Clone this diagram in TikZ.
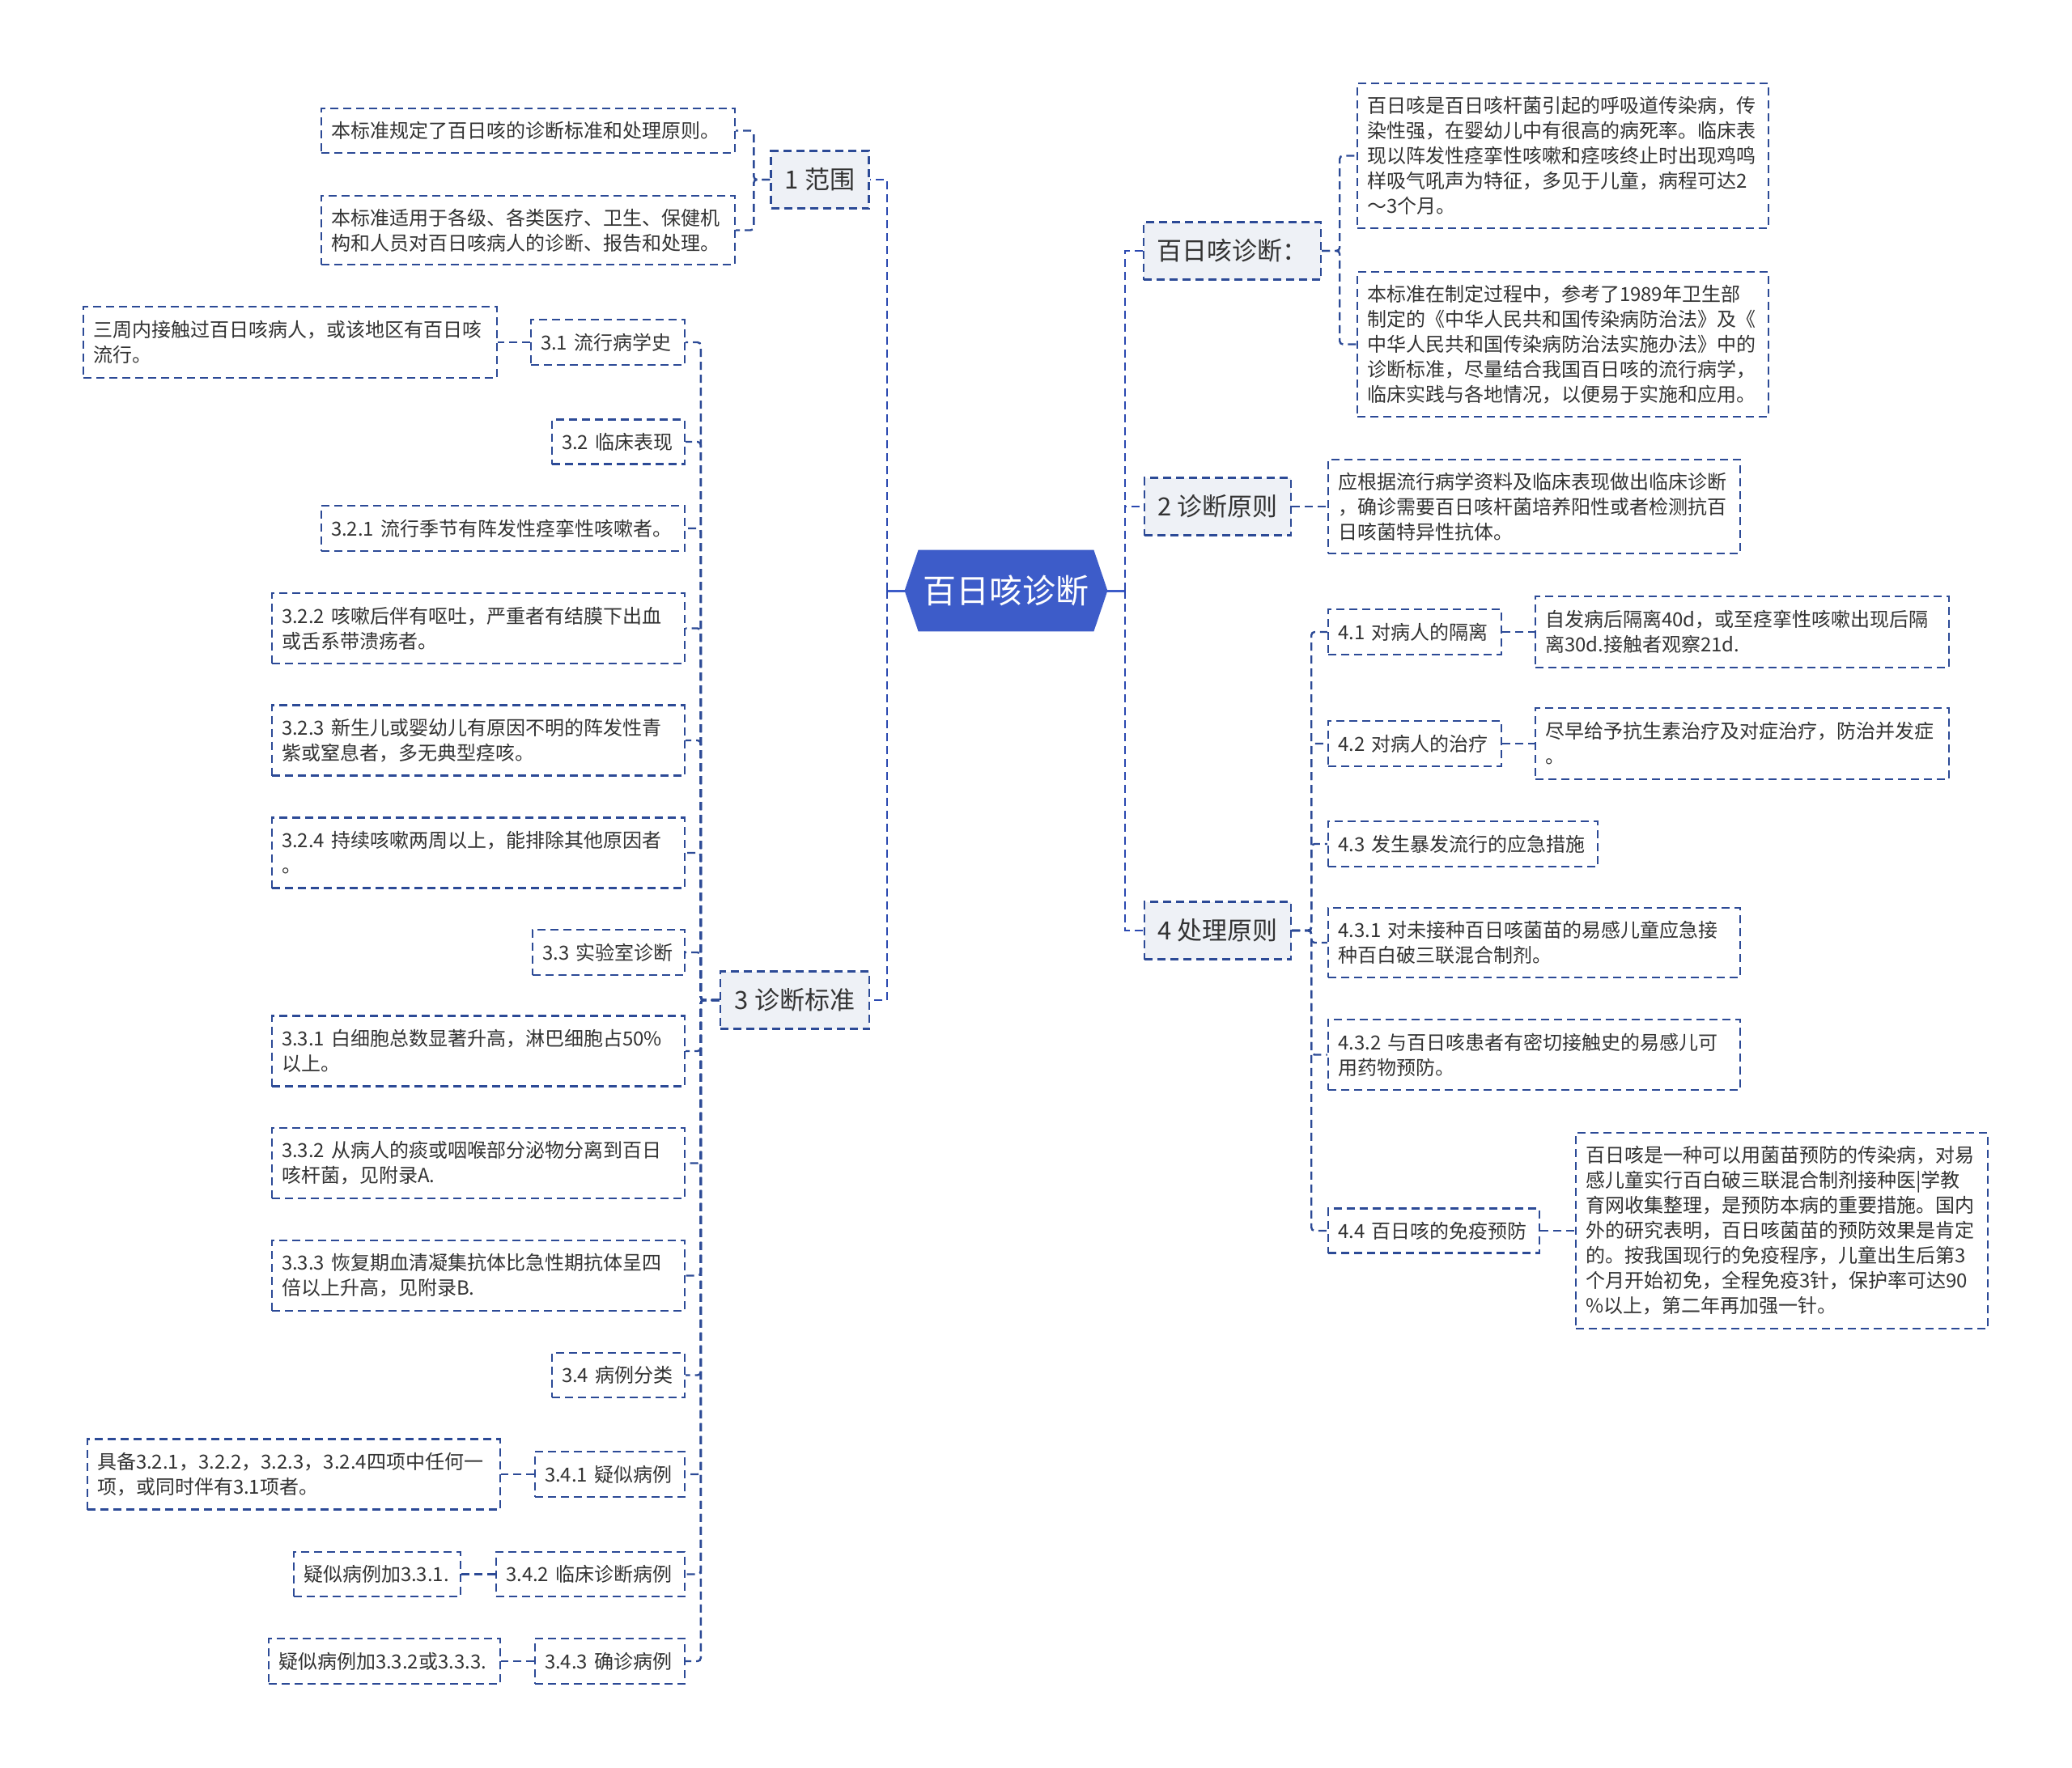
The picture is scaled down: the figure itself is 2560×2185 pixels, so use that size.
\documentclass[tikz,border=0pt]{standalone}
\usepackage{fontspec}
\setmainfont{Noto Sans CJK SC}
\usetikzlibrary{backgrounds}
\definecolor{linec}{HTML}{2C4A96}
\definecolor{spinec}{HTML}{2A48B0}
\definecolor{rootc}{HTML}{3D5CC9}
\definecolor{lvfill}{HTML}{EEF1F6}
\definecolor{txt}{HTML}{333333}
\tikzset{
  lv1/.style={draw=linec, dash pattern=on 5pt off 3pt, line width=1.2pt, fill=lvfill,
    font=\fontsize{15.5}{19}\selectfont, text=txt, minimum height=35.5pt,
    inner xsep=8pt, inner ysep=0pt, align=center},
  leaf/.style={draw=linec, dash pattern=on 5pt off 3pt, line width=1.2pt, fill=white,
    font=\fontsize{12}{15.5}\selectfont, text=txt, align=left,
    inner xsep=6pt, inner ysep=0pt},
  conn/.style={draw=linec, dash pattern=on 5pt off 3pt, line width=1.2pt, rounded corners=2pt},
  spine/.style={draw=spinec, dash pattern=on 5pt off 3pt, line width=1.3pt},
  rootln/.style={draw=rootc, line width=1.5pt},
  roottext/.style={text=white, font=\fontsize{20.5}{24}\selectfont,
    minimum width=125pt, minimum height=50pt, inner sep=0pt}
}
\begin{document}
\begin{tikzpicture}[x=0.5pt, y=-0.5pt]
\useasboundingbox (0,0) rectangle (2560,2185);
\begin{scope}[on background layer]
\fill[white] (0,0) rectangle (2560,2185);
\end{scope}

% root
\node[roottext] (root) at (1243,730) {百日咳诊断};
\begin{scope}[on background layer]
\fill[rootc] (root.west) -- ([xshift=8.5pt]root.north west) -- ([xshift=-8.5pt]root.north east)
  -- (root.east) -- ([xshift=-8.5pt]root.south east) -- ([xshift=8.5pt]root.south west) -- cycle;
\end{scope}
\coordinate (jL) at (1096,730);
\coordinate (jR) at (1390,730);

% ---------- left side ----------
\node[lv1, minimum width=60.5pt] (n1) at (1013,222) {1 范围};
\node[lv1, minimum width=92pt] (n3) at (982,1236) {3 诊断标准};

\node[leaf, text width=243.5pt, minimum height=27.5pt] (n1a) at (652.5,161.5) {本标准规定了百日咳的诊断标准和处理原则。};
\node[leaf, text width=243.5pt, minimum height=42.5pt] (n1b) at (652.5,284.5) {本标准适用于各级、各类医疗、卫生、保健机\\构和人员对百日咳病人的诊断、报告和处理。};

\node[leaf, text width=83pt, minimum height=28pt] (s31) at (751,423) {3.1~流行病学史};
\node[leaf, text width=243.5pt, minimum height=44pt] (s31a) at (358.5,423) {三周内接触过百日咳病人，或该地区有百日咳\\流行。};
\node[leaf, text width=70pt, minimum height=27.5pt] (s32) at (764,546) {3.2~临床表现};
\node[leaf, text width=212.5pt, minimum height=28pt] (s321) at (621.5,653) {3.2.1~流行季节有阵发性痉挛性咳嗽者。};
\node[leaf, text width=243pt, minimum height=43.5pt] (s322) at (591,776.5) {3.2.2~咳嗽后伴有呕吐，严重者有结膜下出血\\或舌系带溃疡者。};
\node[leaf, text width=243pt, minimum height=43.5pt] (s323) at (591,915) {3.2.3~新生儿或婴幼儿有原因不明的阵发性青\\紫或窒息者，多无典型痉咳。};
\node[leaf, text width=243pt, minimum height=43.5pt] (s324) at (591,1054) {3.2.4~持续咳嗽两周以上，能排除其他原因者\\。};
\node[leaf, text width=82pt, minimum height=28pt] (s33) at (752,1177) {3.3~实验室诊断};
\node[leaf, text width=243pt, minimum height=43.5pt] (s331) at (591,1299) {3.3.1~白细胞总数显著升高，淋巴细胞占50\%\\以上。};
\node[leaf, text width=243pt, minimum height=43.5pt] (s332) at (591,1437.5) {3.3.2~从病人的痰或咽喉部分泌物分离到百日\\咳杆菌，见附录A.};
\node[leaf, text width=243pt, minimum height=43.5pt] (s333) at (591,1576.5) {3.3.3~恢复期血清凝集抗体比急性期抗体呈四\\倍以上升高，见附录B.};
\node[leaf, text width=70pt, minimum height=27.5pt] (s34) at (764,1699.5) {3.4~病例分类};
\node[leaf, text width=80.5pt, minimum height=28pt] (s341) at (753.5,1822) {3.4.1~疑似病例};
\node[leaf, text width=243pt, minimum height=43.5pt] (s341a) at (363,1822) {具备3.2.1，3.2.2，3.2.3，3.2.4四项中任何一\\项，或同时伴有3.1项者。};
\node[leaf, text width=104.5pt, minimum height=27.5pt] (s342) at (729.5,1945.5) {3.4.2~临床诊断病例};
\node[leaf, text width=91pt, minimum height=27.5pt] (s342a) at (466,1945.5) {疑似病例加3.3.1.};
\node[leaf, text width=80.5pt, minimum height=28pt] (s343) at (753.5,2053) {3.4.3~确诊病例};
\node[leaf, text width=131pt, minimum height=28pt] (s343a) at (475,2053) {疑似病例加3.3.2或3.3.3.};

% ---------- right side ----------
\node[lv1, minimum width=109.5pt] (rD) at (1522.5,310) {百日咳诊断：};
\node[lv1, minimum width=90.5pt] (r2) at (1504.5,626) {2 诊断原则};
\node[lv1, minimum width=90.5pt] (r4) at (1504.5,1150) {4 处理原则};

\node[leaf, text width=242pt, minimum height=89.5pt] (rDa) at (1931,192.5) {百日咳是百日咳杆菌引起的呼吸道传染病，传\\染性强，在婴幼儿中有很高的病死率。临床表\\现以阵发性痉挛性咳嗽和痉咳终止时出现鸡鸣\\样吸气吼声为特征，多见于儿童，病程可达2\\～3个月。};
\node[leaf, text width=242pt, minimum height=89.5pt] (rDb) at (1931,425.5) {本标准在制定过程中，参考了1989年卫生部\\制定的《中华人民共和国传染病防治法》及《\\中华人民共和国传染病防治法实施办法》中的\\诊断标准，尽量结合我国百日咳的流行病学，\\临床实践与各地情况，以便易于实施和应用。};
\node[leaf, text width=242.5pt, minimum height=58pt] (r2a) at (1895.5,626) {应根据流行病学资料及临床表现做出临床诊断\\，确诊需要百日咳杆菌培养阳性或者检测抗百\\日咳菌特异性抗体。};

\node[leaf, text width=95pt, minimum height=28pt] (r41) at (1748,781) {4.1~对病人的隔离};
\node[leaf, text width=243.5pt, minimum height=44pt] (r41a) at (2152.5,781) {自发病后隔离40d，或至痉挛性咳嗽出现后隔\\离30d.接触者观察21d.};
\node[leaf, text width=95pt, minimum height=28pt] (r42) at (1748,919) {4.2~对病人的治疗};
\node[leaf, text width=243.5pt, minimum height=44pt] (r42a) at (2152.5,919) {尽早给予抗生素治疗及对症治疗，防治并发症\\。};
\node[leaf, text width=154.5pt, minimum height=28pt] (r43) at (1807.5,1043) {4.3~发生暴发流行的应急措施};
\node[leaf, text width=242.5pt, minimum height=43pt] (r431) at (1895.5,1165) {4.3.1~对未接种百日咳菌苗的易感儿童应急接\\种百白破三联混合制剂。};
\node[leaf, text width=242.5pt, minimum height=43.5pt] (r432) at (1895.5,1303.5) {4.3.2~与百日咳患者有密切接触史的易感儿可\\用药物预防。};
\node[leaf, text width=118.5pt, minimum height=27.5pt] (r44) at (1771.5,1521) {4.4~百日咳的免疫预防};
\node[leaf, text width=242.5pt, minimum height=121pt] (r44a) at (2201.5,1521) {百日咳是一种可以用菌苗预防的传染病，对易\\感儿童实行百白破三联混合制剂接种医|学教\\育网收集整理，是预防本病的重要措施。国内\\外的研究表明，百日咳菌苗的预防效果是肯定\\的。按我国现行的免疫程序，儿童出生后第3\\个月开始初免，全程免疫3针，保护率可达90\\\%以上，第二年再加强一针。};

% ---------- connectors ----------
\draw[rootln] (root.west) -- (jL);
\draw[rootln] (root.east) -- (jR);
\draw[spine] (jL) |- (n1.east);
\draw[spine] (jL) |- (n3.east);
\draw[spine] (jR) |- (rD.west);
\draw[spine] (jR) |- (r2.west);
\draw[spine] (jR) |- (r4.west);

\foreach \c in {n1a,n1b} \draw[conn] (n1.west) -- ++(-20,0) |- (\c.east);
\foreach \c in {s31,s32,s321,s322,s323,s324,s33,s331,s332,s333,s34,s341,s342,s343}
  \draw[conn] (n3.west) -- ++(-23,0) |- (\c.east);
\draw[conn] (s31.west) -- (s31a.east);
\draw[conn] (s341.west) -- (s341a.east);
\draw[conn] (s342.west) -- (s342a.east);
\draw[conn] (s343.west) -- (s343a.east);

\foreach \c in {rDa,rDb} \draw[conn] (rD.east) -- ++(22,0) |- (\c.west);
\draw[conn] (r2.east) -- (r2a.west);
\foreach \c in {r41,r42,r43,r431,r432,r44} \draw[conn] (r4.east) -- ++(24,0) |- (\c.west);
\draw[conn] (r41.east) -- (r41a.west);
\draw[conn] (r42.east) -- (r42a.west);
\draw[conn] (r44.east) -- (r44a.west);
\end{tikzpicture}
\end{document}
